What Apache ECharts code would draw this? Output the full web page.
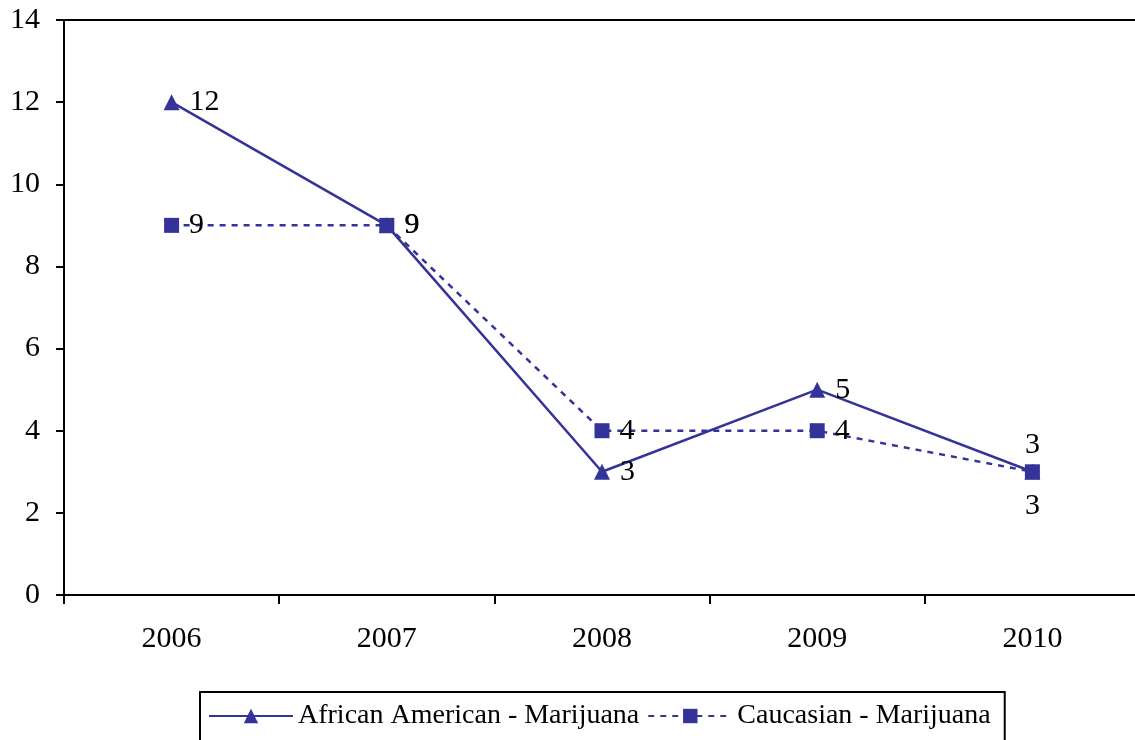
<!DOCTYPE html>
<html>
<head>
<meta charset="utf-8">
<script src="https://cdn.jsdelivr.net/npm/echarts@6/dist/echarts.min.js"></script>
<style>
html,body{margin:0;padding:0;background:#fff;}
#chart{width:1135px;height:740px;}
</style>
</head>
<body>
<div id="chart"></div>
<script>
const categories = ['2006', '2007', '2008', '2009', '2010'];
const africanAmerican = [12, 9, 3, 5, 3];
const caucasian = [9, 9, 4, 4, 3];
const seriesNames = ['African American - Marijuana', 'Caucasian - Marijuana'];

const FONT = '"Liberation Serif", "Times New Roman", serif';
const COLOR = '#333399';

const chart = echarts.init(document.getElementById('chart'), null, {renderer: 'canvas'});

const aaLabelPos = ['right', 'right', 'right', 'right', 'top'];
const caLabelPos = ['right', 'right', 'right', 'right', 'bottom'];

function makeData(vals, positions, distTop, distBottom) {
  return vals.map((v, i) => ({
    value: v,
    label: {
      position: positions[i],
      distance: positions[i] === 'top' ? distTop : (positions[i] === 'bottom' ? distBottom : 10)
    }
  }));
}

const option = {
  animation: false,
  backgroundColor: '#fff',
  textStyle: {fontFamily: FONT},
  grid: {
    left: 64, top: 20, width: 1076, height: 575,
    outerBoundsMode: 'none',
    containLabel: false,
    show: false
  },
  legend: {
    left: 200, top: 692,
    data: seriesNames,
    itemWidth: 84, itemHeight: 18, itemGap: 8,
    padding: [10, 14, 20, 8],
    borderColor: '#000', borderWidth: 2,
    textStyle: {fontFamily: FONT, fontSize: 28, color: '#000'}
  },
  xAxis: [
    {
      type: 'category',
      data: categories,
      boundaryGap: true,
      axisLine: {lineStyle: {color: '#000', width: 2}},
      axisTick: {show: true, length: 9, inside: false, lineStyle: {color: '#000', width: 2}},
      axisLabel: {fontFamily: FONT, fontSize: 30, color: '#000', margin: 29},
      splitLine: {show: false}
    },
    {
      type: 'category',
      position: 'top',
      data: categories,
      boundaryGap: true,
      axisLine: {show: true, lineStyle: {color: '#000', width: 2}},
      axisTick: {show: false},
      axisLabel: {show: false},
      splitLine: {show: false}
    }
  ],
  yAxis: {
    type: 'value',
    min: 0, max: 14, interval: 2,
    axisLine: {show: true, lineStyle: {color: '#000', width: 2}},
    axisTick: {show: true, length: 8, inside: false, lineStyle: {color: '#000', width: 2}},
    axisLabel: {fontFamily: FONT, fontSize: 30, color: '#000', margin: 24},
    splitLine: {show: false}
  },
  series: [
    {
      name: seriesNames[0],
      type: 'line',
      data: makeData(africanAmerican, aaLabelPos, 4, 12),
      symbol: 'triangle',
      symbolSize: 16,
      itemStyle: {color: COLOR},
      lineStyle: {color: COLOR, width: 2.5, type: 'solid'},
      label: {show: true, fontFamily: FONT, fontSize: 30, color: '#000'},
      z: 3
    },
    {
      name: seriesNames[1],
      type: 'line',
      data: makeData(caucasian, caLabelPos, 4, 12),
      symbol: 'rect',
      symbolSize: 15,
      itemStyle: {color: COLOR},
      lineStyle: {color: COLOR, width: 2.5, type: [6, 6]},
      label: {show: true, fontFamily: FONT, fontSize: 30, color: '#000'},
      z: 2
    }
  ]
};

chart.setOption(option);
</script>
</body>
</html>
